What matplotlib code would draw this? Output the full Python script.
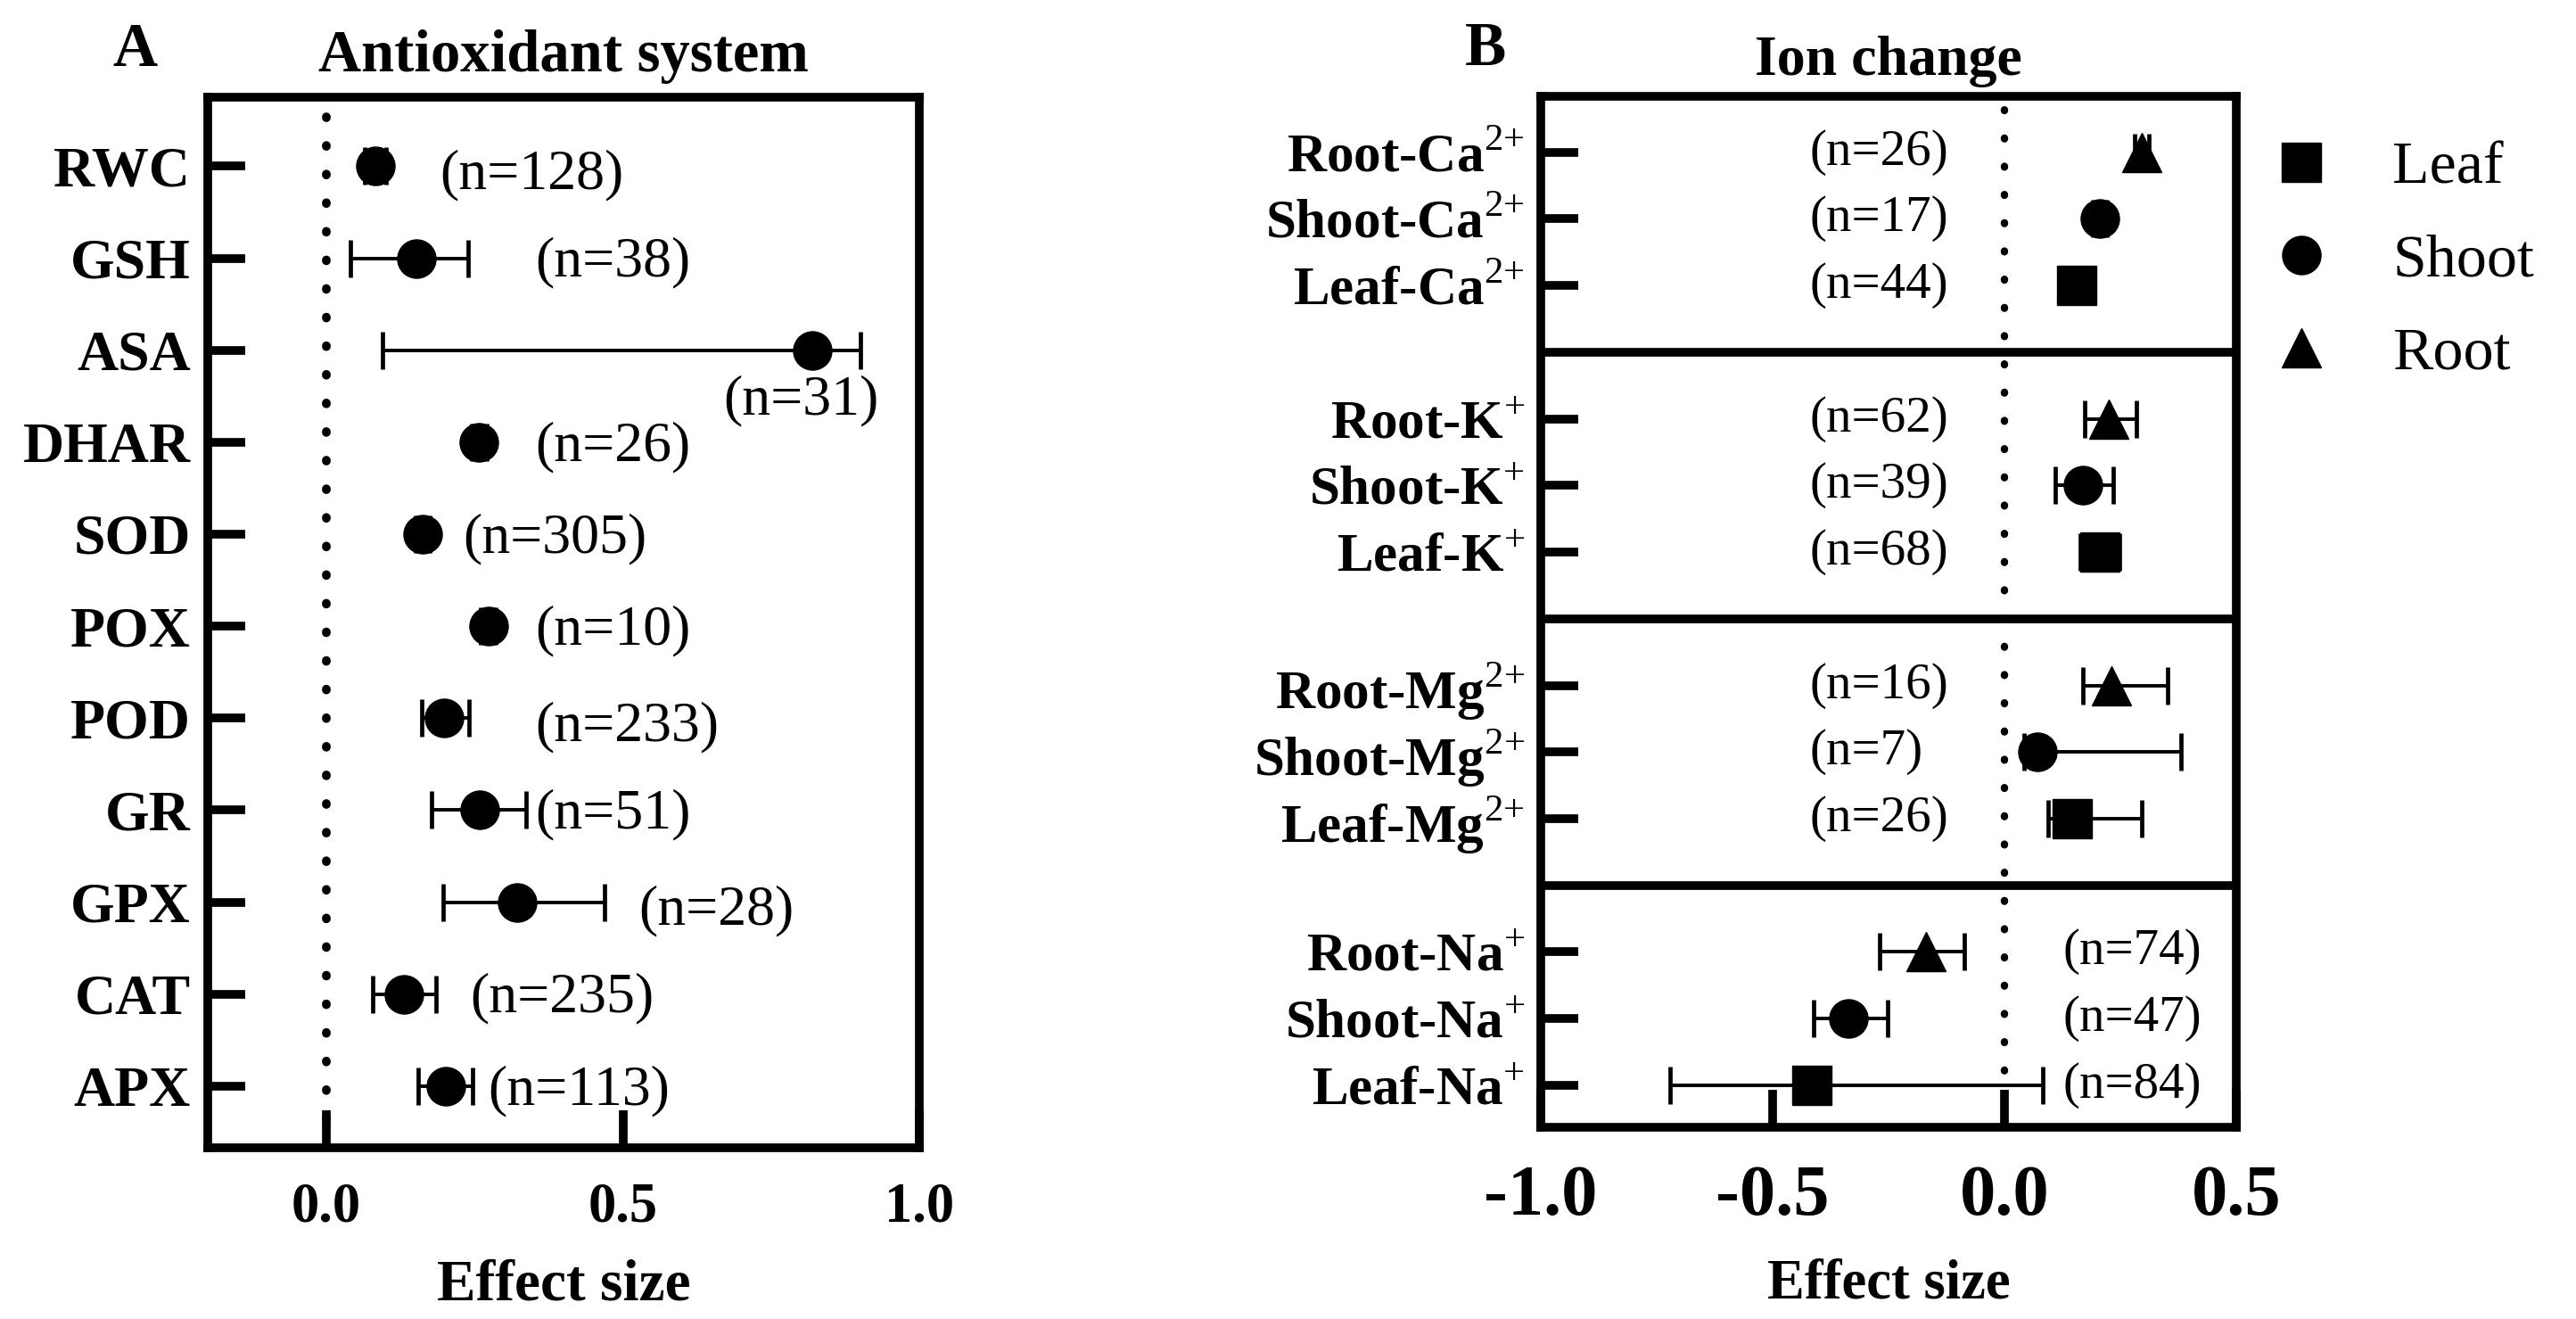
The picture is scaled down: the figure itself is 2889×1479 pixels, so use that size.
import matplotlib
matplotlib.use("Agg")
import matplotlib.pyplot as plt

plt.rcParams['font.family'] = 'Liberation Serif'
plt.rcParams['mathtext.fontset'] = 'custom'
plt.rcParams['mathtext.rm'] = 'Liberation Serif'
plt.rcParams['mathtext.bf'] = 'Liberation Serif:bold'
plt.rcParams['axes.unicode_minus'] = False

# Panel A: antioxidant system
antiox_names = ["RWC", "GSH", "ASA", "DHAR", "SOD", "POX", "POD", "GR", "GPX", "CAT", "APX"]
antiox_mean = [0.082, 0.151, 0.820, 0.257, 0.162, 0.273, 0.199, 0.259, 0.321, 0.130, 0.201]
antiox_low = [0.065, 0.040, 0.094, 0.245, 0.150, 0.260, 0.160, 0.178, 0.197, 0.078, 0.154]
antiox_high = [0.100, 0.239, 0.900, 0.270, 0.175, 0.286, 0.241, 0.336, 0.469, 0.185, 0.246]
antiox_n = [128, 38, 31, 26, 305, 10, 233, 51, 28, 235, 113]

# where the (n=..) labels sit, in data units
antiox_label_x = [0.191, 0.352, 0.669, 0.352, 0.230, 0.352, 0.352, 0.352, 0.526, 0.243, 0.273]
antiox_label_dy = [0.1, 0.05, 0.55, 0.05, 0.05, 0.05, 0.1, 0.05, 0.1, 0.05, 0.05]

# Panel B: ion change
ion_names = ["Root-Ca$^{\\mathrm{2{+}}}$", "Shoot-Ca$^{\\mathrm{2{+}}}$", "Leaf-Ca$^{\\mathrm{2{+}}}$",
             "Root-K$^{\\mathrm{{+}}}$", "Shoot-K$^{\\mathrm{{+}}}$", "Leaf-K$^{\\mathrm{{+}}}$",
             "Root-Mg$^{\\mathrm{2{+}}}$", "Shoot-Mg$^{\\mathrm{2{+}}}$", "Leaf-Mg$^{\\mathrm{2{+}}}$",
             "Root-Na$^{\\mathrm{{+}}}$", "Shoot-Na$^{\\mathrm{{+}}}$", "Leaf-Na$^{\\mathrm{{+}}}$"]
ion_tissue = ["Root", "Shoot", "Leaf"] * 4
ion_mean = [0.296, 0.206, 0.155, 0.225, 0.169, 0.206, 0.230, 0.071, 0.146, -0.169, -0.337, -0.416]
ion_low = [0.280, 0.190, 0.140, 0.174, 0.109, 0.163, 0.170, 0.043, 0.094, -0.270, -0.412, -0.721]
ion_high = [0.312, 0.222, 0.170, 0.285, 0.234, 0.249, 0.352, 0.380, 0.296, -0.086, -0.251, 0.082]
ion_n = [26, 17, 44, 62, 39, 68, 16, 7, 26, 74, 47, 84]
ion_label_x = [-0.42] * 9 + [0.127] * 3

tissues = ["Leaf", "Shoot", "Root"]
tissue_markers = {"Leaf": "s", "Shoot": "o", "Root": "^"}

fig = plt.figure(figsize=(28.89, 14.79), dpi=100)
axA = fig.add_axes([0.0807, 0.1298, 0.2762, 0.7965])
axB = fig.add_axes([0.5981, 0.1454, 0.2700, 0.7816])

err_kw = dict(fmt="none", ecolor="black", elinewidth=2.8, capsize=15, capthick=3.4, zorder=2)

# ---- Panel A
ya = list(range(len(antiox_names)))
axA.axvline(0, color="black", lw=7, linestyle=(0, (0.1, 3.2)), dash_capstyle="round", zorder=1)
xerr_a = [[m - l for m, l in zip(antiox_mean, antiox_low)],
          [h - m for m, h in zip(antiox_mean, antiox_high)]]
axA.errorbar(antiox_mean, ya, xerr=xerr_a, **err_kw)
axA.plot(antiox_mean, ya, "o", color="black", ms=31, zorder=3)
for i, n in enumerate(antiox_n):
    axA.text(antiox_label_x[i], ya[i] + antiox_label_dy[i], f"(n={n})",
             fontsize=46, va="center", ha="left")

axA.set_xlim(-0.2, 1.0)
axA.set_ylim(10.67, -0.75)
axA.set_yticks(ya, antiox_names, fontsize=46, fontweight="bold")
axA.set_xticks([0.0, 0.5, 1.0], ["0.0", "0.5", "1.0"], fontsize=45, fontweight="bold")
axA.tick_params(axis="both", direction="in", length=30, width=7)
axA.tick_params(axis="y", pad=14)
axA.tick_params(axis="x", pad=28)

# ---- Panel B
yb = [g * 4 + i for g in range(4) for i in range(3)]
axB.axvline(0, color="black", lw=6, linestyle=(0, (0.1, 3.7)), dash_capstyle="round", zorder=1)
for d in [3, 7, 11]:
    axB.axhline(d, color="black", lw=7, zorder=1)
for t in tissues:
    idx = [i for i, tt in enumerate(ion_tissue) if tt == t]
    xs = [ion_mean[i] for i in idx]
    ys = [yb[i] for i in idx]
    err = [[ion_mean[i] - ion_low[i] for i in idx], [ion_high[i] - ion_mean[i] for i in idx]]
    axB.errorbar(xs, ys, xerr=err, **err_kw)
    axB.plot(xs, ys, linestyle="none", marker=tissue_markers[t], color="black",
             ms=31, label=t, zorder=3)
for i, n in enumerate(ion_n):
    axB.text(ion_label_x[i], yb[i], f"(n={n})", fontsize=41, va="center", ha="left")

axB.set_xlim(-1.0, 0.5)
axB.set_ylim(14.63, -0.84)
axB.set_yticks(yb, ion_names, fontsize=44, fontweight="bold")
axB.set_xticks([-1.0, -0.5, 0.0, 0.5], ["-1.0", "-0.5", "0.0", "0.5"], fontsize=58, fontweight="bold")
axB.tick_params(axis="both", direction="in", length=30, width=7)
axB.tick_params(axis="y", pad=13)
axB.tick_params(axis="x", pad=30)

for ax in (axA, axB):
    for s in ax.spines.values():
        s.set_linewidth(7)

axB.legend(loc="upper left", bbox_to_anchor=(0.8816, 0.893), bbox_transform=fig.transFigure,
           frameon=False, fontsize=49, handlelength=1.0, handletextpad=1.0,
           labelspacing=0.62, borderpad=0, borderaxespad=0)

# titles, panel letters, axis labels
fig.text(0.0523, 0.950, "A", fontsize=50, fontweight="bold", ha="center", va="baseline")
fig.text(0.2188, 0.946, "Antioxidant system", fontsize=48, fontweight="bold", ha="center", va="baseline")
fig.text(0.5767, 0.9506, "B", fontsize=50, fontweight="bold", ha="center", va="baseline")
fig.text(0.7331, 0.943, "Ion change", fontsize=46, fontweight="bold", ha="center", va="baseline")
fig.text(0.2188, 0.0142, "Effect size", fontsize=47, fontweight="bold", ha="center", va="baseline")
fig.text(0.7331, 0.0162, "Effect size", fontsize=45, fontweight="bold", ha="center", va="baseline")

fig.savefig("out.png", dpi=100)
